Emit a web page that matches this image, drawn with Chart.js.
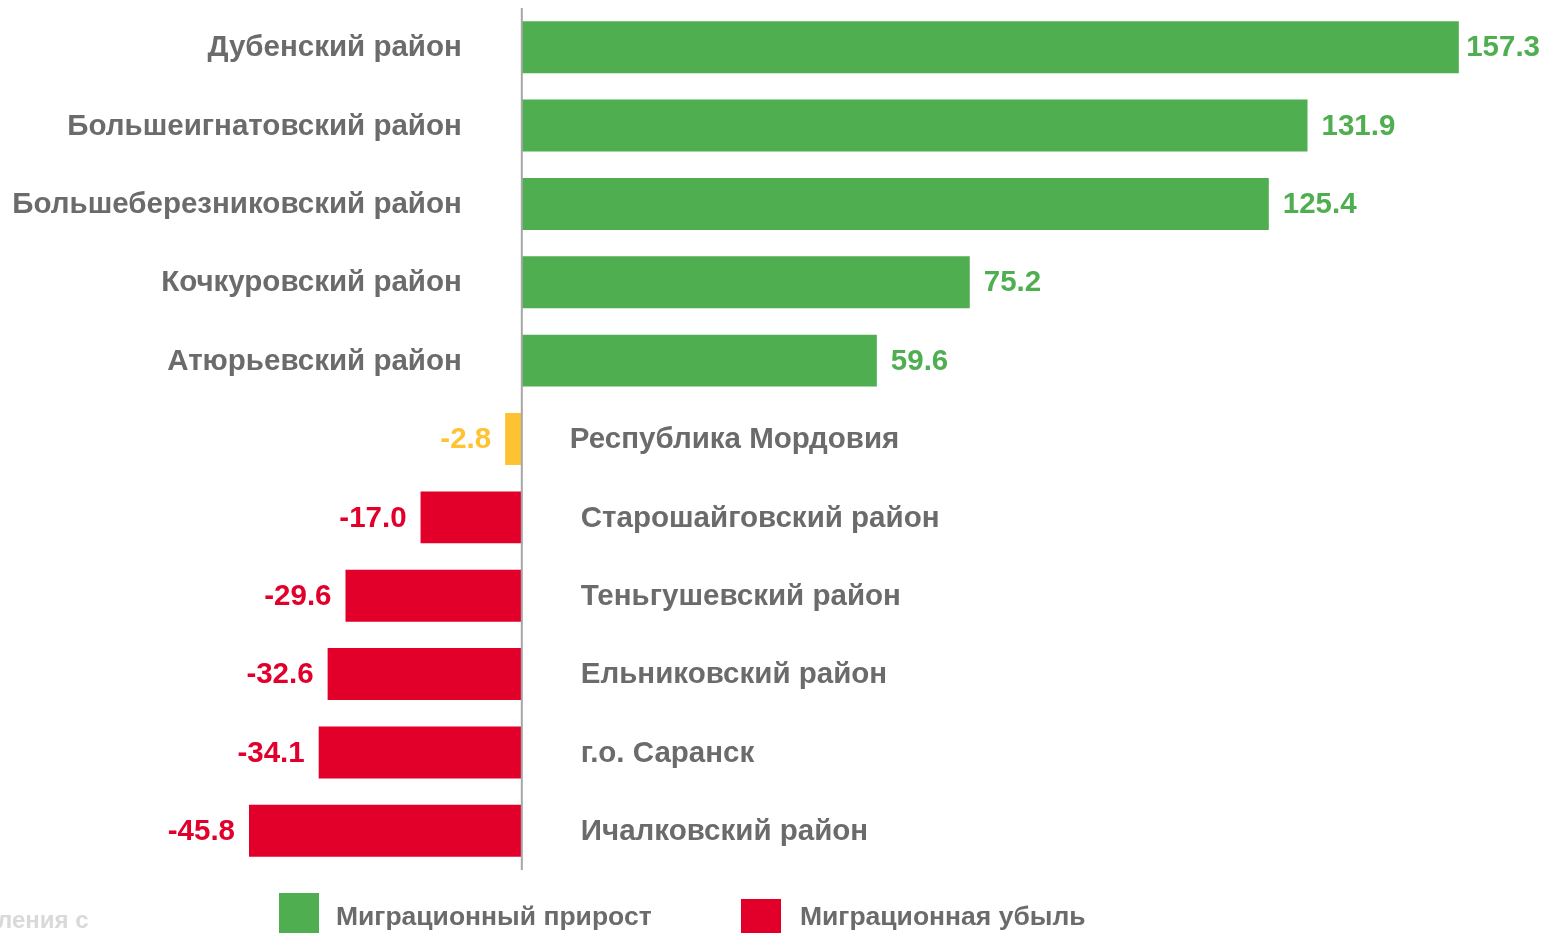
<!DOCTYPE html>
<html lang="ru">
<head>
<meta charset="utf-8">
<title>Миграционный прирост / убыль</title>
<script src="https://cdn.jsdelivr.net/npm/chart.js@4.4.1/dist/chart.umd.min.js"></script>
<style>
    html, body { margin: 0; padding: 0; background: #ffffff; overflow: hidden; }
    #chart { display: block; }
</style>
</head>
<body>
<canvas id="chart" width="1544" height="933"></canvas>
<script>
    "use strict";

    // Data
    var categories = [
        "Дубенский район",
        "Большеигнатовский район",
        "Большеберезниковский район",
        "Кочкуровский район",
        "Атюрьевский район",
        "Республика Мордовия",
        "Старошайговский район",
        "Теньгушевский район",
        "Ельниковский район",
        "г.о. Саранск",
        "Ичалковский район"
    ];
    var values = [157.3, 131.9, 125.4, 75.2, 59.6, -2.8, -17.0, -29.6, -32.6, -34.1, -45.8];
    var totalLabel = "Республика Мордовия";
    var legendLabels = ["Миграционный прирост", "Миграционная убыль"];
    var footnote = "ления с";


    // Colours
    var GREEN = "#4FAE50";
    var RED = "#E2002B";
    var YELLOW = "#FFC232";
    var TEXT = "#6B6B6B";
    var FONT = "'Liberation Sans', Arial, sans-serif";

    var barColor = function (i) {
        if (categories[i] === totalLabel) return YELLOW;
        return values[i] >= 0 ? GREEN : RED;
    };
    var colors = values.map(function (v, i) { return barColor(i); });


    // Labels, zero line and legend
    var labelsPlugin = {
        id: "labels",
        afterDatasetsDraw: function (chart) {
            var ctx = chart.ctx;
            var xs = chart.scales.x;
            var area = chart.chartArea;
            var zero = xs.getPixelForValue(0);
            var meta = chart.getDatasetMeta(0);

            ctx.save();

            // zero line
            ctx.strokeStyle = "#A6A6A6";
            ctx.lineWidth = 2;
            ctx.beginPath();
            ctx.moveTo(zero, area.top);
            ctx.lineTo(zero, area.bottom);
            ctx.stroke();

            ctx.textBaseline = "middle";
            meta.data.forEach(function (bar, i) {
                var v = values[i];
                var y = bar.y + 1;

                // category name
                ctx.font = "bold 29.5px " + FONT;
                ctx.fillStyle = TEXT;
                if (v >= 0) {
                    ctx.textAlign = "right";
                    ctx.fillText(categories[i], zero - 60, y);
                } else {
                    ctx.textAlign = "left";
                    ctx.fillText(categories[i], zero + (categories[i] === totalLabel ? 48 : 59), y);
                }

                // value
                ctx.font = "bold 29.5px " + FONT;
                ctx.fillStyle = colors[i];
                var txt = v.toFixed(1);
                var w = ctx.measureText(txt).width;
                if (v >= 0) {
                    var tx = Math.min(bar.x + 14, chart.width - 4 - w);
                    ctx.textAlign = "left";
                    ctx.fillText(txt, tx, y);
                } else {
                    ctx.textAlign = "right";
                    ctx.fillText(txt, bar.x - 14, y);
                }
            });

            // legend
            ctx.textAlign = "left";
            ctx.font = "bold 26.5px " + FONT;
            ctx.fillStyle = GREEN;
            ctx.fillRect(279, 893, 40, 45);
            ctx.fillStyle = TEXT;
            ctx.fillText(legendLabels[0], 336, 918);
            ctx.fillStyle = RED;
            ctx.fillRect(741, 899, 40, 40);
            ctx.fillStyle = TEXT;
            ctx.fillText(legendLabels[1], 800, 918);

            // cut-off footnote
            ctx.fillStyle = "#D9D9D9";
            ctx.font = "bold 24px " + FONT;
            ctx.fillText(footnote, -3, 921);

            ctx.restore();
        }
    };


    // Bar chart
    var ctx1 = document.getElementById("chart").getContext("2d");
    var myChart1 = new Chart(ctx1, {
        type: "bar",
        data: {
            labels: categories,
            datasets: [{
                data: values,
                backgroundColor: colors,
                borderWidth: 0,
                categoryPercentage: 1,
                barPercentage: 0.663
            }]
        },
        options: {
            indexAxis: "y",
            responsive: false,
            animation: false,
            layout: {
                padding: { left: 0, right: 0, top: 8, bottom: 63 }
            },
            scales: {
                x: { display: false, min: -87.6, max: 171.6 },
                y: { display: false }
            },
            plugins: {
                legend: { display: false },
                tooltip: { enabled: false }
            }
        },
        plugins: [labelsPlugin]
    });
</script>
</body>
</html>
